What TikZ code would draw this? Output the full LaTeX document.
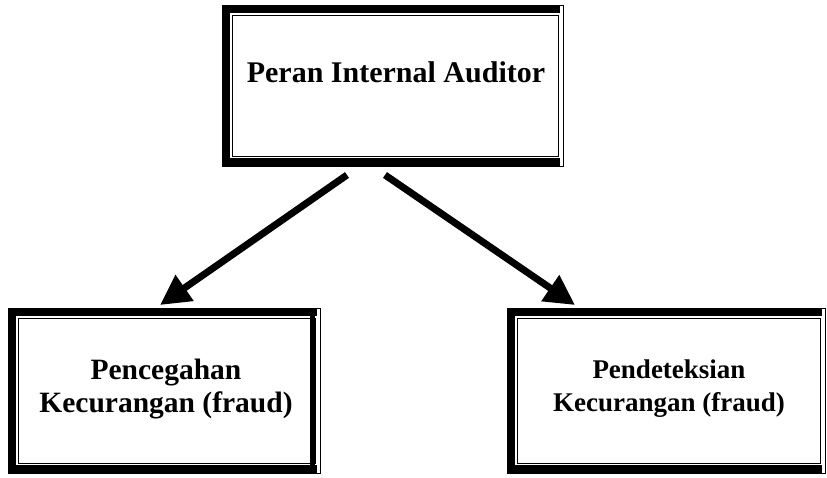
\documentclass[tikz,border=0pt]{standalone}
\usepackage{fontspec}
\setmainfont{Liberation Serif}
\usetikzlibrary{arrows.meta}
\tikzset{
  framebox/.style={draw=black, line width=0.7pt, inner sep=0pt, outer sep=0pt,
    path picture={
      \fill (path picture bounding box.north west) rectangle ([xshift=-3pt,yshift=-8pt]path picture bounding box.north east);
      \fill (path picture bounding box.north west) rectangle ([xshift=8pt]path picture bounding box.south west);
      \fill ([yshift=8pt]path picture bounding box.south west) rectangle ([xshift=-3pt]path picture bounding box.south east);
      \draw[line width=0.6pt] ([xshift=10pt,yshift=-10pt]path picture bounding box.north west) rectangle ([xshift=-5pt,yshift=10pt]path picture bounding box.south east);
    }},
  boxtext/.style={font=\bfseries, align=center, inner sep=0pt},
  bigarrow/.style={line width=7pt, -{Triangle[length=30pt,width=30pt]}}
}
\begin{document}
\begin{tikzpicture}[x=1pt,y=-1pt]
\useasboundingbox (0,0) rectangle (827,477);
\node[framebox, minimum width=341pt, minimum height=161pt] (b1) at (392.5,85.5) {};
\node[framebox, minimum width=312pt, minimum height=165pt] (b2) at (164,390.5) {};
\node[framebox, minimum width=318pt, minimum height=165pt] (b3) at (666,390.5) {};
\fill ([xshift=-10pt,yshift=-8pt]b2.north east) rectangle ([xshift=-5pt,yshift=8pt]b2.south east);
\node[boxtext, anchor=base, font=\bfseries\fontsize{30}{33}\selectfont] (t1) at (396,82) {Peran Internal Auditor};
\node[boxtext, font=\bfseries\fontsize{29.5}{33}\selectfont] (t2) at (166,389) {Pencegahan\\Kecurangan (fraud)};
\node[boxtext, font=\bfseries\fontsize{27}{33}\selectfont] (t3) at (669,389) {Pendeteksian\\Kecurangan (fraud)};
\draw[bigarrow] ([xshift=-45.5pt,yshift=-9pt]b1.south) -- ([xshift=-4pt,yshift=3pt]b2.north);
\draw[bigarrow] ([xshift=-7.5pt,yshift=-9pt]b1.south) -- ([xshift=-91pt,yshift=3pt]b3.north);
\end{tikzpicture}
\end{document}
